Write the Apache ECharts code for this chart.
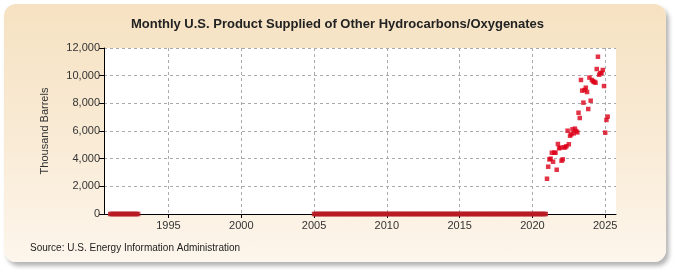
<!DOCTYPE html>
<html>
<head>
<meta charset="utf-8">
<script src="https://cdn.jsdelivr.net/npm/echarts@6/dist/echarts.min.js"></script>
<style>
html,body{margin:0;padding:0;background:#fff;}
#wrap{position:relative;width:675px;height:275px;overflow:hidden;}
#panel{position:absolute;left:4px;top:4px;width:662px;height:258px;border-radius:12px;
background:linear-gradient(to bottom,#f6e2c2 0%,#f9ebd6 55%,#fdf6ec 100%);
box-shadow:3px 4px 4px rgba(120,120,120,0.55);}
#chart{position:absolute;left:0;top:0;width:675px;height:275px;}
</style>
</head>
<body>
<div id="wrap"><div id="panel"></div><div id="chart"></div></div>
<script>
const title = 'Monthly U.S. Product Supplied of Other Hydrocarbons/Oxygenates';
const yAxisName = 'Thousand Barrels';
const source = 'Source: U.S. Energy Information Administration';
const xTickYears = [1995, 2000, 2005, 2010, 2015, 2020, 2025];
const yTicks = [0, 2000, 4000, 6000, 8000, 10000, 12000];
// Periods (inclusive years) where monthly value is 0
const zeroPeriods = [[1991, 1992], [2005, 2020]];
// Monthly values Jan 2021 - Mar 2025 (thousand barrels)
const recentStart = 2021;
const recentValues = [
  2550, 3420, 3950, 4000, 4430, 3780, 4430, 4430, 3200, 5060, 4750, 4800,
  3850, 3950, 4820, 4820, 4900, 6020, 5040, 5660, 5760, 6120, 5830, 6170,
  6000, 5900, 7320, 6940, 9690, 8920, 8050, 8960, 9130, 8820, 7590, 9860,
  8190, 9690, 9590, 9550, 9490, 10480, 11370, 10070, 10170, 10200, 10410, 9250,
  5880, 6800, 7040
];

const zeroData = [];
zeroPeriods.forEach(([a, b]) => {
  for (let y = a; y <= b; y++) for (let m = 0; m < 12; m++) zeroData.push([y + m / 12, 0]);
});
const recentData = recentValues.map((v, i) => [recentStart + i / 12, v]);

const chart = echarts.init(document.getElementById('chart'), null, {renderer: 'canvas'});
const font = 'Liberation Sans, Arial, sans-serif';
chart.setOption({
  animation: false,
  backgroundColor: 'transparent',
  title: {
    text: title, left: 'center', top: 13,
    textStyle: {fontFamily: font, fontSize: 13, fontWeight: 'bold', color: '#222'}
  },
  graphic: [{
    type: 'text', left: 30, top: 243,
    style: {text: source, fontFamily: font, fontSize: 10, fill: '#222'}
  }],
  grid: {left: 104, right: 59, top: 48, bottom: 61, show: true, backgroundColor: '#fff', borderWidth: 0},
  xAxis: {
    type: 'value', min: 1990.57, max: 2025.74,
    axisLine: {show: true, onZero: false, lineStyle: {color: '#000', width: 1}},
    axisTick: {show: true, length: 4, lineStyle: {color: '#000'}, customValues: xTickYears},
    axisLabel: {customValues: xTickYears, fontFamily: font, fontSize: 11, color: '#333', margin: 6,
      formatter: v => String(v)},
    splitLine: {show: true, lineStyle: {color: '#aaa', type: [3, 3], width: 1}}
  },
  yAxis: {
    type: 'value', min: yTicks[0], max: yTicks[yTicks.length - 1], interval: 2000,
    name: yAxisName, nameLocation: 'middle', nameGap: 54,
    nameTextStyle: {fontFamily: font, fontSize: 11, color: '#333'},
    axisLine: {show: true, lineStyle: {color: '#000', width: 1}},
    axisTick: {show: true, length: 5, lineStyle: {color: '#000'}},
    axisLabel: {fontFamily: font, fontSize: 11, color: '#333', margin: 4,
      formatter: v => v.toLocaleString('en-US')},
    splitLine: {show: true, lineStyle: {color: '#aaa', type: [3, 3], width: 1}}
  },
  series: [{
    type: 'scatter', data: zeroData, symbol: 'rect', symbolSize: 4.5,
    itemStyle: {color: '#b81c24'}, z: 5, clip: false
  }, {
    type: 'scatter', data: recentData, symbol: 'rect', symbolSize: 4.5,
    itemStyle: {color: '#dc0018'}, z: 5, clip: false
  }]
});
</script>
</body>
</html>
